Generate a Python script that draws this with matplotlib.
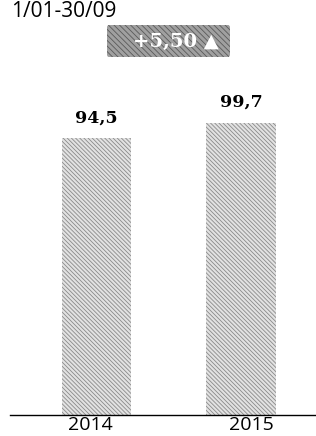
import matplotlib
matplotlib.use('Agg')
import matplotlib.pyplot as plt
from matplotlib.patches import FancyBboxPatch

years = ['2014', '2015']
values = [94.5, 99.7]
labels = ['94,5', '99,7']
period = '1/01-30/09'
change = '+5,50 \u25B2'

plt.rcParams['hatch.linewidth'] = 0.6

fig = plt.figure(figsize=(3.16, 4.36), dpi=100)
ax = fig.add_axes([10/316, 21/436, 306/316, 352/436])

x = list(range(len(years)))
ax.bar(x, values, width=0.48, color='#e2e2e2', edgecolor='#8a8a8a',
       hatch='\\\\\\\\\\\\\\\\', linewidth=0)

for xi, v, lab in zip(x, values, labels):
    ax.text(xi, v + 5.3, lab, ha='center', va='baseline',
            fontsize=12.5, fontweight='bold', family='DejaVu Serif')

ax.set_xlim(-0.599, 1.519)
ax.set_ylim(0, 120)
# year labels sit a little off the bar centres in the original
ax.set_xticks([x[0] - 0.045, x[1] + 0.07])
ax.set_xticklabels(years, fontsize=14, family='Open Sans')
ax.tick_params(axis='x', length=0, pad=0.5)
ax.set_yticks([])
for s in ['left', 'right', 'top']:
    ax.spines[s].set_visible(False)
ax.spines['bottom'].set_linewidth(1.0)

fig.text(11/316, 1 - 1/436, period, fontsize=15, family='Open Sans',
         ha='left', va='top')

# badge with the change
fig.patches.append(FancyBboxPatch((107/316, 1 - 57/436), 123/316, 32/436,
                                  boxstyle='round,pad=0,rounding_size=0.006',
                                  transform=fig.transFigure, facecolor='#a0a0a0',
                                  edgecolor='#5a5a5a', hatch='\\\\\\\\\\\\',
                                  linewidth=0))
fig.text(176/316, 1 - 42/436, change, ha='center', va='center', color='white',
         fontsize=14, fontweight='bold', family=['DejaVu Serif', 'DejaVu Sans'])

fig.savefig('out.png', dpi=100)
